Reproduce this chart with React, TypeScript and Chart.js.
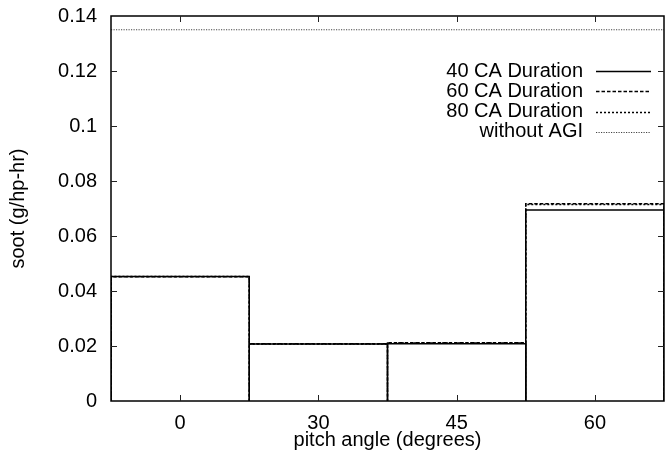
import React, { useEffect, useRef } from 'react';
import { Chart, registerables } from 'chart.js';

Chart.register(...registerables);

const categories = ['0', '30', '45', '60'];
const duration40 = [0.0453, 0.0207, 0.0208, 0.0695];
const duration60 = [0.0452, 0.0208, 0.0212, 0.0717];
const duration80 = [0.0453, 0.0207, 0.0211, 0.0715];
const withoutAGI = 0.135;
const yTickValues = [0, 0.02, 0.04, 0.06, 0.08, 0.1, 0.12, 0.14];

const FONT = "'Liberation Sans', Arial, Helvetica, sans-serif";

function boxOutline(values: number[]) {
  const pts: { x: number; y: number }[] = [];
  values.forEach((v, i) => {
    pts.push({ x: i - 0.5, y: 0 }, { x: i - 0.5, y: v }, { x: i + 0.5, y: v }, { x: i + 0.5, y: 0 });
  });
  return pts;
}

const framePlugin = {
  id: 'gnuFrame',
  afterDraw(chart: any) {
    const { ctx, chartArea: a, scales } = chart;
    ctx.save();
    // frame
    ctx.strokeStyle = '#000';
    ctx.lineWidth = 1.5;
    ctx.setLineDash([]);
    ctx.strokeRect(a.left, a.top, a.right - a.left, a.bottom - a.top);
    // inward ticks
    ctx.lineWidth = 1;
    ctx.strokeStyle = '#222';
    ctx.beginPath();
    const ys = scales.y;
    ys.ticks.forEach((t: any) => {
      const py = Math.round(ys.getPixelForValue(t.value)) + 0.5;
      if (py < a.top + 2 || py > a.bottom - 2) return;
      ctx.moveTo(a.left, py);
      ctx.lineTo(a.left + 6, py);
      ctx.moveTo(a.right, py);
      ctx.lineTo(a.right - 6, py);
    });
    const xs = scales.x;
    xs.ticks.forEach((t: any) => {
      const px = Math.round(xs.getPixelForValue(t.value)) + 0.5;
      ctx.moveTo(px, a.bottom);
      ctx.lineTo(px, a.bottom - 6);
      ctx.moveTo(px, a.top);
      ctx.lineTo(px, a.top + 6);
    });
    ctx.stroke();

    // legend (key) at top right, gnuplot style
    const textRight = a.right - 81;
    const sampleLeft = a.right - 68;
    const sampleRight = a.right - 13;
    const rowTop = a.top + 55;
    const rowStep = 20.3;
    ctx.font = `20px ${FONT}`;
    ctx.textAlign = 'right';
    ctx.textBaseline = 'middle';
    chart.data.datasets.forEach((ds: any, i: number) => {
      const y = rowTop + i * rowStep;
      ctx.fillStyle = '#000';
      ctx.fillText(ds.label, textRight, y);
      ctx.beginPath();
      ctx.strokeStyle = ds.borderColor;
      ctx.lineWidth = ds.borderWidth;
      ctx.setLineDash(ds.borderDash || []);
      ctx.moveTo(sampleLeft, Math.round(y) + 0.5);
      ctx.lineTo(sampleRight, Math.round(y) + 0.5);
      ctx.stroke();
    });
    ctx.restore();
  },
};

export default function App() {
  const ref = useRef<HTMLCanvasElement | null>(null);
  useEffect(() => {
    if (!ref.current) return;
    const lineBase = { pointRadius: 0, pointHoverRadius: 0, fill: false, tension: 0, borderColor: '#000' };
    const chart = new Chart(ref.current, {
      type: 'line',
      data: {
        datasets: [
          { ...lineBase, label: '40 CA Duration', data: boxOutline(duration40), borderWidth: 1.5, borderDash: [], order: 0 },
          { ...lineBase, label: '60 CA Duration', data: boxOutline(duration60), borderWidth: 1.5, borderDash: [3.5, 2], order: 1 },
          { ...lineBase, label: '80 CA Duration', data: boxOutline(duration80), borderWidth: 1.5, borderDash: [2, 2], order: 2 },
          {
            ...lineBase,
            label: 'without AGI',
            data: [
              { x: -0.5, y: withoutAGI },
              { x: categories.length - 0.5, y: withoutAGI },
            ],
            borderColor: '#444',
            borderWidth: 1,
            borderDash: [1.2, 1.3],
            order: 3,
          },
        ] as any,
      },
      options: {
        animation: false,
        responsive: false,
        devicePixelRatio: 1,
        layout: { padding: { top: 16, right: 1, left: 0, bottom: 0 } },
        plugins: { legend: { display: false }, tooltip: { enabled: false } },
        events: [],
        scales: {
          x: {
            type: 'linear',
            min: -0.5,
            max: categories.length - 0.5,
            grid: { display: false, drawTicks: false },
            border: { display: false },
            afterBuildTicks: (scale: any) => {
              scale.ticks = categories.map((_, i) => ({ value: i }));
            },
            afterFit: (scale: any) => {
              scale.height = 52;
              scale.paddingLeft = 0;
              scale.paddingRight = 0;
            },
            ticks: {
              padding: 10,
              color: '#000',
              font: { family: FONT, size: 20 },
              maxRotation: 0,
              autoSkip: false,
              callback: (v: any) => categories[Math.round(Number(v))],
            },
            title: {
              display: true,
              text: 'pitch angle (degrees)',
              color: '#000',
              font: { family: FONT, size: 20, lineHeight: 1.2 },
              padding: { top: 0, bottom: 1 },
            },
          },
          y: {
            type: 'linear',
            min: 0,
            max: 0.14,
            grid: { display: false, drawTicks: false },
            border: { display: false },
            afterBuildTicks: (scale: any) => {
              scale.ticks = yTickValues.map((v) => ({ value: v }));
            },
            afterFit: (scale: any) => {
              scale.width = 111;
              scale.paddingTop = 0;
              scale.paddingBottom = 0;
            },
            ticks: {
              padding: 14,
              color: '#000',
              font: { family: FONT, size: 20 },
              callback: (v: any) => String(Number(Number(v).toFixed(2))),
            },
            title: {
              display: true,
              text: 'soot (g/hp-hr)',
              color: '#000',
              font: { family: FONT, size: 20, lineHeight: 1.2 },
              padding: { top: 6, bottom: 0 },
            },
          },
        },
      } as any,
      plugins: [framePlugin],
    });
    return () => chart.destroy();
  }, []);
  return (
    <div style={{ position: 'fixed', left: 0, top: 0, width: 665, height: 453, background: '#fff' }}>
      <canvas ref={ref} width={665} height={453} style={{ width: 665, height: 453, display: 'block' }} />
    </div>
  );
}
